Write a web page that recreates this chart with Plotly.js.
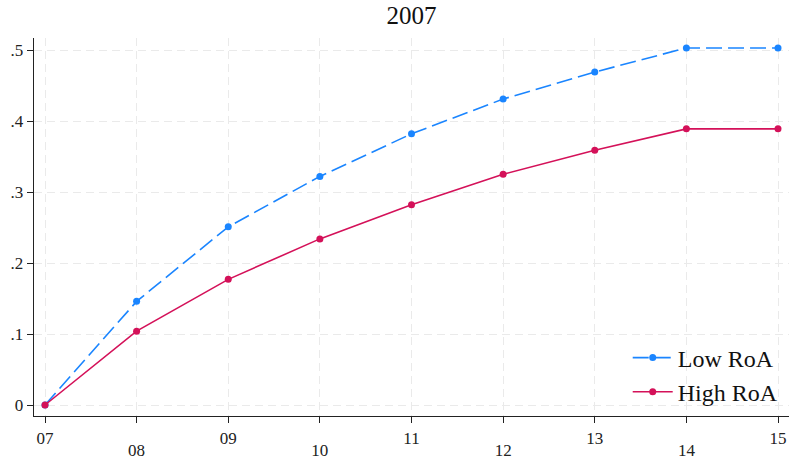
<!DOCTYPE html>
<html>
<head>
<meta charset="utf-8">
<script src="https://cdn.plot.ly/plotly-3.0.1.min.js"></script>
<style>html,body{margin:0;padding:0;background:#fff;}#chart{width:789px;height:460px;}</style>
</head>
<body>
<div id="chart"></div>
<script>
// Years since 2007 (two-digit labels) and cumulative shares by RoA group
const years = [7, 8, 9, 10, 11, 12, 13, 14, 15];
const yearLabels = ['07', '08', '09', '10', '11', '12', '13', '14', '15'];
const lowRoA = [0, 0.146, 0.251, 0.322, 0.382, 0.431, 0.469, 0.503, 0.503];
const highRoA = [0, 0.104, 0.177, 0.234, 0.282, 0.325, 0.359, 0.389, 0.389];
const yTicks = [0, 0.1, 0.2, 0.3, 0.4, 0.5];
const yTickLabels = ['0', '.1', '.2', '.3', '.4', '.5'];

// Tick labels alternate between two rows: odd positions on the first row,
// the rest on a second row drawn by an overlaid axis pushed further down.
const upperRow = yearLabels.map((t, i) => (i % 2 === 0 ? t : ''));
const lowerVals = years.filter((v, i) => i % 2 === 1);
const lowerText = yearLabels.filter((t, i) => i % 2 === 1);

const font = 'Liberation Serif, DejaVu Serif, serif';
const xRange = [6.88, 15.12];

const traces = [
  {
    x: years, y: lowRoA, name: 'Low RoA', type: 'scatter', mode: 'lines+markers',
    line: {color: '#1A85FF', width: 1.6, dash: '16px,6px'},
    marker: {color: '#1A85FF', size: 7}
  },
  {
    x: years, y: highRoA, name: 'High RoA', type: 'scatter', mode: 'lines+markers',
    line: {color: '#D41159', width: 1.6},
    marker: {color: '#D41159', size: 7}
  },
  // Invisible trace binds the second x axis so its labels are drawn
  {
    x: [years[0]], y: [0], xaxis: 'x2', yaxis: 'y', type: 'scatter', mode: 'markers',
    marker: {opacity: 0}, showlegend: false, hoverinfo: 'skip'
  }
];

const grid = '#eaeaea';

const layout = {
  width: 789, height: 460,
  margin: {l: 34, r: 0, t: 38, b: 44},
  paper_bgcolor: '#fff', plot_bgcolor: '#fff',
  font: {family: font, color: '#222', size: 17},
  title: {text: '2007', x: 0.5, xref: 'paper', xanchor: 'center', y: 0.985, yanchor: 'top',
          font: {family: font, size: 25, color: '#111'}},
  showlegend: true,
  legend: {
    x: 0.993, xanchor: 'right', y: 0.004, yanchor: 'bottom',
    bgcolor: 'rgba(255,255,255,0)', borderwidth: 0,
    font: {family: font, size: 24, color: '#111'},
    itemwidth: 40, tracegroupgap: 0
  },
  xaxis: {
    range: xRange,
    tickvals: years, ticktext: upperRow,
    ticks: 'outside', ticklen: 6, tickcolor: '#222', tickwidth: 1,
    showline: true, linecolor: '#222', linewidth: 1.3,
    showgrid: true, gridcolor: grid, griddash: '8px,5px', gridwidth: 1,
    zeroline: false,
    tickfont: {family: font, size: 17, color: '#222'}
  },
  xaxis2: {
    overlaying: 'x', anchor: 'y', side: 'bottom',
    range: xRange,
    tickvals: lowerVals, ticktext: lowerText,
    ticks: '', showline: false, showgrid: false, zeroline: false,
    ticklabelstandoff: 22,
    tickfont: {family: font, size: 17, color: '#222'}
  },
  yaxis: {
    range: [-0.0155, 0.517],
    tickvals: yTicks, ticktext: yTickLabels,
    ticks: 'outside', ticklen: 6, tickcolor: '#222', tickwidth: 1,
    showline: true, linecolor: '#222', linewidth: 1.3,
    showgrid: true, gridcolor: grid, griddash: '8px,5px', gridwidth: 1,
    zeroline: false,
    tickfont: {family: font, size: 17, color: '#222'}
  }
};

Plotly.newPlot('chart', traces, layout, {displayModeBar: false, staticPlot: true});
</script>
</body>
</html>
